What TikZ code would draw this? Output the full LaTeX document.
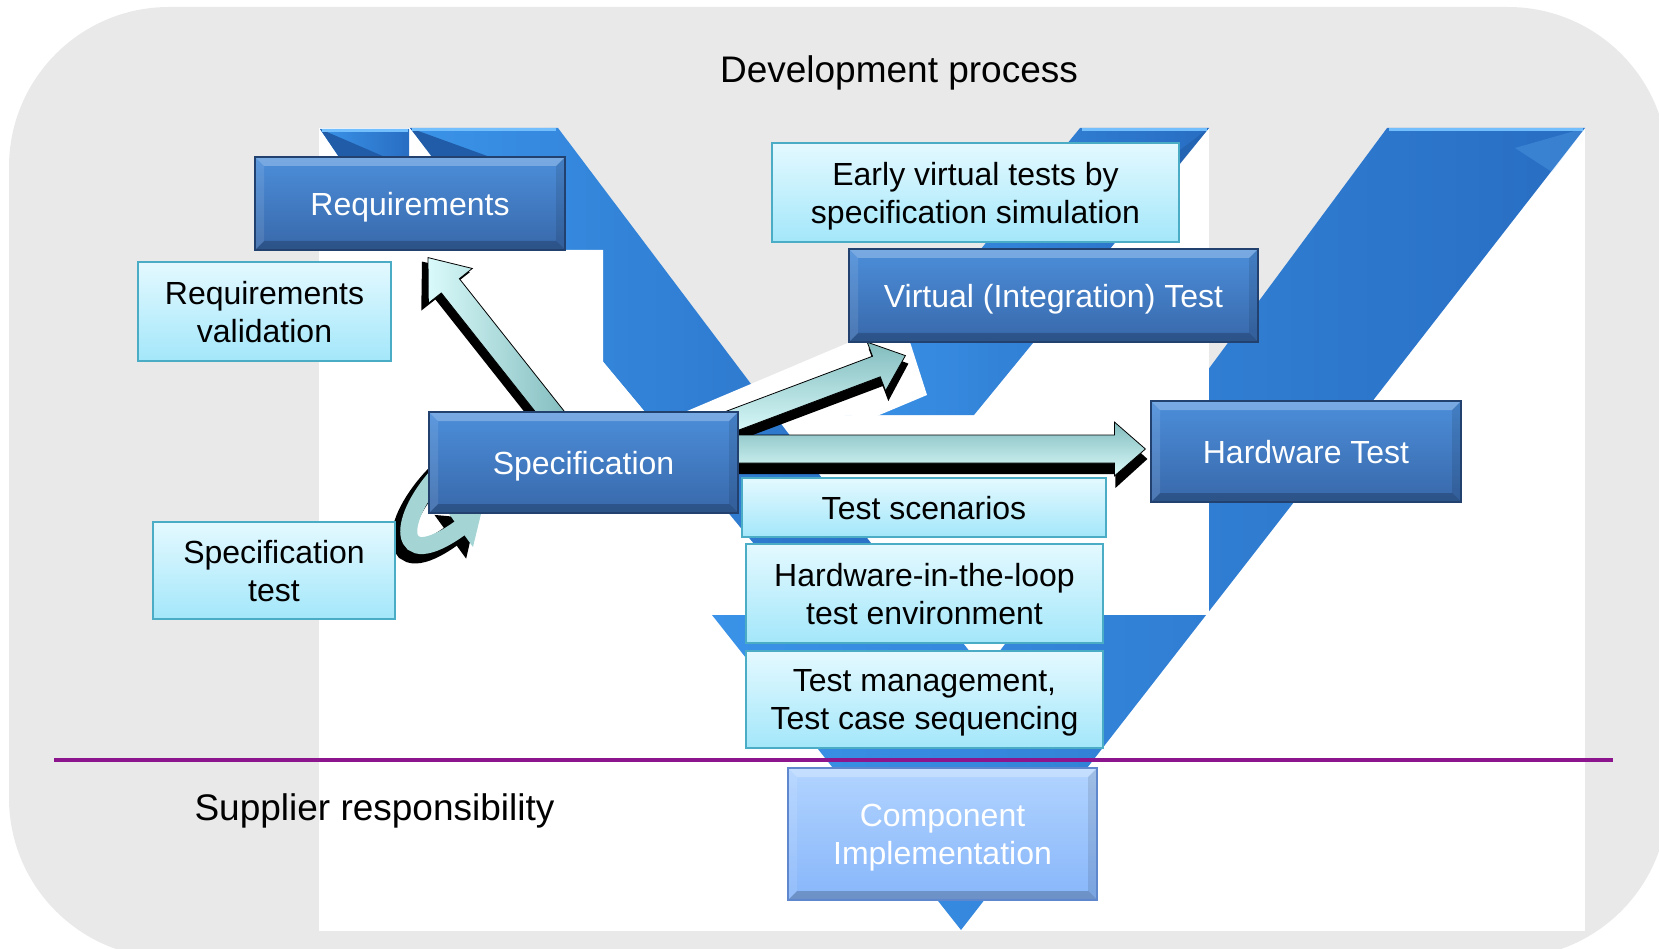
\documentclass[tikz,border=0pt]{standalone}
\usepackage{fontspec}
\setmainfont{Liberation Sans}
\usetikzlibrary{calc,arrows.meta}
\pgfdeclarelayer{bgl}
\pgfdeclarelayer{fgl}
\pgfsetlayers{bgl,main,fgl}
\definecolor{bggray}{RGB}{233,233,233}
\definecolor{vL}{RGB}{58,147,232}
\definecolor{vD}{RGB}{40,110,195}
\definecolor{vDark}{RGB}{32,92,168}
\definecolor{vHi}{RGB}{115,190,252}
\definecolor{bxT}{RGB}{76,142,218}
\definecolor{bxB}{RGB}{56,104,170}
\definecolor{bxE}{RGB}{35,65,110}
\definecolor{cyT}{RGB}{228,249,255}
\definecolor{cyB}{RGB}{163,231,250}
\definecolor{cyE}{RGB}{75,172,198}
\definecolor{cpT}{RGB}{178,212,255}
\definecolor{cpB}{RGB}{135,182,250}
\definecolor{cpE}{RGB}{95,135,205}
\definecolor{tealL}{RGB}{218,250,250}
\definecolor{tealD}{RGB}{130,188,190}
\definecolor{tealM}{RGB}{165,212,213}
\definecolor{purp}{RGB}{140,20,140}
\newcommand\blockarrow[6]{%
  \coordinate (ba-h) at ($(#2)!#5!(#1)$);
  \path[#6] ($(#1)!#3!90:(#2)$) -- ($(ba-h)!#3!90:(#2)$) -- ($(ba-h)!#4!90:(#2)$) -- (#2)
    -- ($(ba-h)!#4!-90:(#2)$) -- ($(ba-h)!#3!-90:(#2)$) -- ($(#1)!#3!-90:(#2)$) -- cycle;}
\tikzset{
  lbl/.style={font=\fontsize{32}{38}\selectfont, align=center, inner sep=0pt, text depth=0pt},
  bevel/.style={path picture={
     \fill[white,opacity=.25] (path picture bounding box.north west) -- (path picture bounding box.north east) -- ([shift={(-9pt,-9pt)}]path picture bounding box.north east) -- ([shift={(9pt,-9pt)}]path picture bounding box.north west) -- cycle;
     \fill[black,opacity=.2] (path picture bounding box.south west) -- (path picture bounding box.south east) -- ([shift={(-9pt,9pt)}]path picture bounding box.south east) -- ([shift={(9pt,9pt)}]path picture bounding box.south west) -- cycle;
     \fill[black,opacity=.1] (path picture bounding box.north east) -- (path picture bounding box.south east) -- ([shift={(-9pt,9pt)}]path picture bounding box.south east) -- ([shift={(-9pt,-9pt)}]path picture bounding box.north east) -- cycle;
     \fill[white,opacity=.1] (path picture bounding box.north west) -- (path picture bounding box.south west) -- ([shift={(9pt,9pt)}]path picture bounding box.south west) -- ([shift={(9pt,-9pt)}]path picture bounding box.north west) -- cycle;
  }},
  bluebox/.style={lbl, rectangle, draw=bxE, line width=1.2pt, top color=bxT, bottom color=bxB, text=white, bevel},
  cyanbox/.style={lbl, rectangle, draw=cyE, line width=2.4pt, top color=cyT, bottom color=cyB, text=black},
  compbox/.style={lbl, rectangle, draw=cpE, line width=1.5pt, top color=cpT, bottom color=cpB, text=white, bevel},
  vshade/.style={left color=vL, right color=vD},
  bigtext/.style={anchor=base, font=\fontsize{37}{44}\selectfont, inner sep=0pt},
  shadowarrow/.style={fill=black},
  tealarrow/.style={top color=tealD, bottom color=tealL, draw=black, line width=0.8pt},
}
\begin{document}
\begin{tikzpicture}[x=1pt,y=-1pt]
\useasboundingbox (0,0) rectangle (1659,949);
\begin{pgfonlayer}{bgl}
\fill[bggray, rounded corners=160pt] (9,7) rectangle (1668,958);
\fill[white] (319,128) rectangle (1585,931);
% gray gap left of right V
\fill[bggray] (1209,128) -- (1387,128) -- (1209,370) -- cycle;
% right V with the lower V
\shade[vshade] (712,615) -- (941,615) -- (985,671) -- (1387,128) -- (1585,128) -- (961,930) -- cycle;
\fill[vHi,opacity=.22] (1585,128) -- (1515,148) -- (1552,172) -- cycle;
\draw[vHi, line width=3pt] (1389,129.5) -- (1583,129.5);
% white overlays
\fill[white] (1100,128) rectangle (1209,615);
\fill[white] (600,415) rectangle (1209,615);
% gray gap between arms
\fill[bggray] (550,128) -- (1080,128) -- (905,350) -- (850,345) -- (745,390) -- (700,395) -- cycle;
% middle arm
\shade[vshade] (1080,128) -- (1209,128) -- (974,415) -- (845,415) -- cycle;
\fill[vDark,opacity=.6] (1209,128) -- (1180,150) -- (1180,164) -- cycle;
\draw[vHi, line width=3pt] (1082,129.5) -- (1207,129.5);
% left arm
\shade[vshade] (410,128) -- (558,128) -- (929,620) -- (817,620) -- cycle;
\fill[vDark] (410,128) -- (432,157) -- (490,157) -- cycle;
\draw[vHi, line width=3pt] (412,129.5) -- (556,129.5);
\shade[vshade] (320,129) -- (409,129) -- (409,157) -- (339,157) -- cycle;
\fill[vDark] (320,129) -- (339,157) -- (385,157) -- cycle;
\draw[vHi, line width=3pt] (322,130.5) -- (408,130.5);
% white patches of the pasted pictures
\fill[white] (319,250) -- (603,250) -- (603,362) -- (645,412) -- (319,412) -- cycle;
\fill[white] (680,414) -- (850,342) -- (910,342) -- (927,395) -- (877,416) -- cycle;
% divider
\draw[purp, line width=3.5pt] (54,760) -- (1613,760);
\end{pgfonlayer}

\begin{pgfonlayer}{fgl}
\node[bluebox, minimum width=310pt, minimum height=93pt] (req) at (410,203.5) {Requirements};
\node[cyanbox, minimum width=253pt, minimum height=99pt] (reqval) at (264.5,311.5) {Requirements\\validation};
\node[cyanbox, minimum width=407pt, minimum height=99pt] (early) at (975.5,192.5) {Early virtual tests by\\specification simulation};
\node[bluebox, minimum width=409pt, minimum height=93pt] (virt) at (1053.5,295.5) {Virtual (Integration) Test};
\node[bluebox, minimum width=310pt, minimum height=101pt] (hw) at (1306,451.5) {Hardware Test};
\node[bluebox, minimum width=309pt, minimum height=101pt] (spec) at (583.5,462.5) {Specification};
\node[cyanbox, minimum width=242pt, minimum height=97pt] (spectest) at (274,570.5) {Specification\\test};
\node[cyanbox, minimum width=364pt, minimum height=59pt] (ts) at (924,507.5) {Test scenarios};
\node[cyanbox, minimum width=357pt, minimum height=99pt] (hil) at (924.5,593.5) {Hardware-in-the-loop\\test environment};
\node[cyanbox, minimum width=357pt, minimum height=97pt] (tm) at (924.5,699.5) {Test management,\\Test case sequencing};
\node[compbox, minimum width=309pt, minimum height=132pt] (comp) at (942.5,834) {Component\\Implementation};
\node[bigtext] (title) at (899,83) {Development process};
\node[bigtext] (supplier) at (374.5,820) {Supplier responsibility};
\end{pgfonlayer}

% arrow Specification -> Requirements
\coordinate (aAt) at ($(spec.north)+(-23.5,13)$);
\coordinate (aAh) at ($(req.south)+(18,7)$);
\coordinate (aAts) at ($(aAt)+(-6,4)$);
\coordinate (aAhs) at ($(aAh)+(-6,4)$);
\blockarrow{aAts}{aAhs}{13pt}{31pt}{38pt}{shadowarrow}
\blockarrow{aAt}{aAh}{11.5pt}{28pt}{36pt}{left color=tealL, right color=tealD, draw=black, line width=0.8pt}
% arrow Specification -> Virtual test
\coordinate (aBt) at ($(spec.north east)+(-16,13)$);
\coordinate (aBh) at ($(virt.south west)+(57,13)$);
\coordinate (aBts) at ($(aBt)+(3,8)$);
\coordinate (aBhs) at ($(aBh)+(3,8)$);
\blockarrow{aBts}{aBhs}{12pt}{28pt}{32pt}{shadowarrow}
\blockarrow{aBt}{aBh}{11pt}{26pt}{31pt}{tealarrow}
% arrow Specification -> Hardware test
\coordinate (aCt) at ($(spec.east)+(-8,-13.5)$);
\coordinate (aCh) at ($(hw.west)+(-5,-2.5)$);
\coordinate (aCts) at ($(aCt)+(2,10)$);
\coordinate (aChs) at ($(aCh)+(2,10)$);
\blockarrow{aCts}{aChs}{15pt}{29pt}{32pt}{shadowarrow}
\blockarrow{aCt}{aCh}{14pt}{27pt}{31pt}{tealarrow}
% curved arrow Specification test -> Specification
\coordinate (dA) at ($(spec.west)+(16,5.5)$);
\coordinate (dB) at ($(spec.south west)+(53,-1)$);
\coordinate (dAs) at ($(dA)+(-6,6)$);
\coordinate (dBs) at ($(dB)+(-6,6)$);
\draw[black, line width=22pt, -{Triangle[width=52pt,length=31pt]}] (dAs) .. controls ($(dAs)+(-50,50)$) and ($(dBs)+(-87,63)$) .. (dBs);
\draw[tealM, line width=17pt, -{Triangle[width=44pt,length=27pt]}] (dA) .. controls ($(dA)+(-50,50)$) and ($(dB)+(-87,63)$) .. (dB);
\end{tikzpicture}
\end{document}
